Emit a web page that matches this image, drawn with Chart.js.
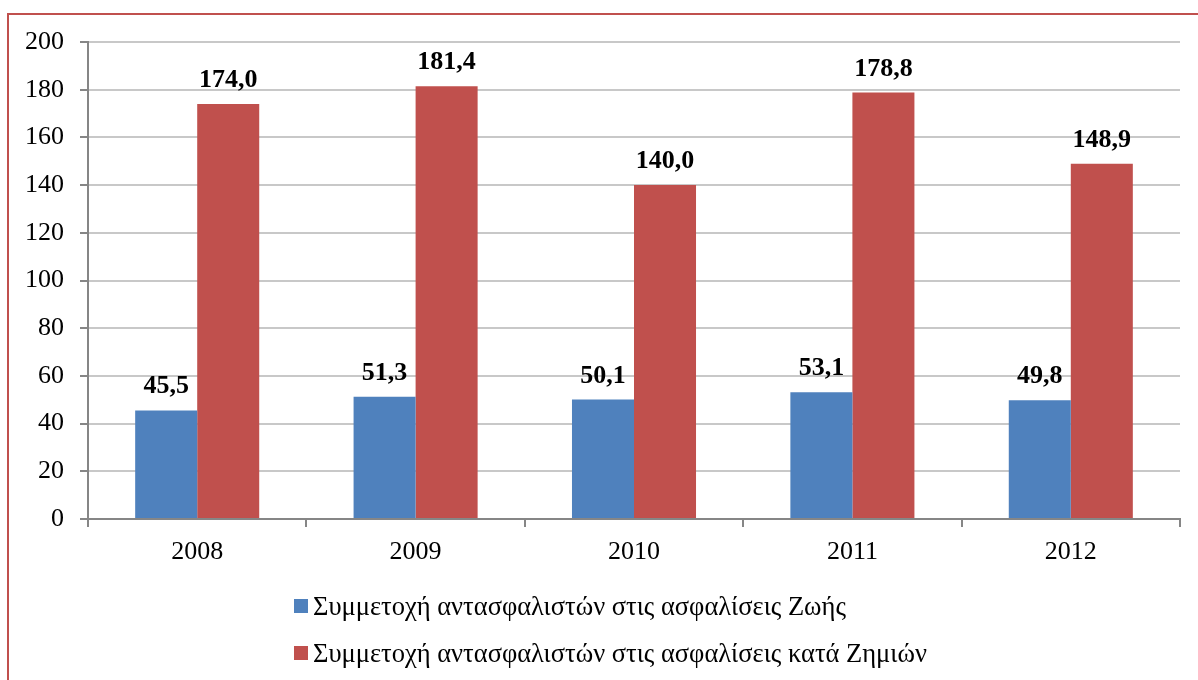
<!DOCTYPE html>
<html>
<head>
<meta charset="utf-8">
<script src="https://cdn.jsdelivr.net/npm/chart.js@4/dist/chart.umd.min.js"></script>
<style>
  html, body { margin: 0; padding: 0; background: #fff; overflow: hidden; }
  #wrap { position: relative; width: 1198px; height: 680px; }
  #frame {
    position: absolute; left: 7px; top: 13px; width: 1220px; height: 700px;
    border: 2px solid #c0504d; box-sizing: border-box;
  }
  canvas { position: absolute; left: 0; top: 0; }
  .legend {
    position: absolute; left: 294px; height: 30px; line-height: 30px;
    display: flex; align-items: center;
    font-family: "Liberation Serif", serif; font-size: 26.5px; color: #000; white-space: nowrap;
  }
  .legend span.box { display: inline-block; width: 14px; height: 14px; margin-right: 5px; }
</style>
</head>
<body>
<div id="wrap">
  <div id="frame"></div>
  <canvas id="chart" width="1198" height="680"></canvas>
  <div class="legend" id="leg1" style="top:591px"></div>
  <div class="legend" id="leg2" style="top:638px"></div>
</div>
<script>
/* ===== DATA ===== */
const years = ["2008", "2009", "2010", "2011", "2012"];
const lifeShare = [45.5, 51.3, 50.1, 53.1, 49.8];
const damageShare = [174.0, 181.4, 140.0, 178.8, 148.9];
const seriesNames = [
  "Συμμετοχή αντασφαλιστών στις ασφαλίσεις Ζωής",
  "Συμμετοχή αντασφαλιστών στις ασφαλίσεις κατά Ζημιών"
];
const seriesColors = ["#4f81bd", "#c0504d"];

const FONT = "Liberation Serif";

/* ===== HTML LEGEND ===== */
["leg1", "leg2"].forEach((id, i) => {
  const el = document.getElementById(id);
  el.innerHTML = '<span class="box" style="background:' + seriesColors[i] + '"></span><span>' + seriesNames[i] + '</span>';
});

/* ===== VALUE LABELS ===== */
const valueLabels = {
  id: "valueLabels",
  afterDatasetsDraw(chart) {
    const ctx = chart.ctx;
    ctx.save();
    ctx.font = "bold 26px '" + FONT + "'";
    ctx.fillStyle = "#000";
    ctx.textAlign = "center";
    ctx.textBaseline = "alphabetic";
    chart.data.datasets.forEach((ds, di) => {
      chart.getDatasetMeta(di).data.forEach((bar, i) => {
        const txt = ds.data[i].toFixed(1).replace(".", ",");
        ctx.fillText(txt, bar.x, bar.y - 17);
      });
    });
    ctx.restore();
  }
};

new Chart(document.getElementById("chart"), {
  type: "bar",
  data: {
    labels: years,
    datasets: [
      { label: seriesNames[0], data: lifeShare, backgroundColor: seriesColors[0] },
      { label: seriesNames[1], data: damageShare, backgroundColor: seriesColors[1] }
    ]
  },
  options: {
    responsive: false,
    animation: false,
    layout: { padding: { left: 0, top: 42, right: 18, bottom: 0 } },
    datasets: { bar: { categoryPercentage: 0.568, barPercentage: 1 } },
    plugins: { legend: { display: false }, tooltip: { enabled: false } },
    scales: {
      x: {
        afterFit(axis) { axis.height = 161; },
        grid: { drawOnChartArea: false, tickLength: 8, tickColor: "#868686", lineWidth: 2, offset: true },
        border: { color: "#868686", width: 2 },
        ticks: { color: "#000", padding: 10, font: { family: FONT, size: 26 } }
      },
      y: {
        min: 0,
        max: 200,
        afterFit(axis) { axis.width = 88; },
        ticks: { stepSize: 20, color: "#000", padding: 16, font: { family: FONT, size: 26 } },
        grid: { color: "#c8c8c8", lineWidth: 2, tickLength: 8, tickColor: "#868686" },
        border: { color: "#868686", width: 2 }
      }
    }
  },
  plugins: [valueLabels]
});
</script>
</body>
</html>
